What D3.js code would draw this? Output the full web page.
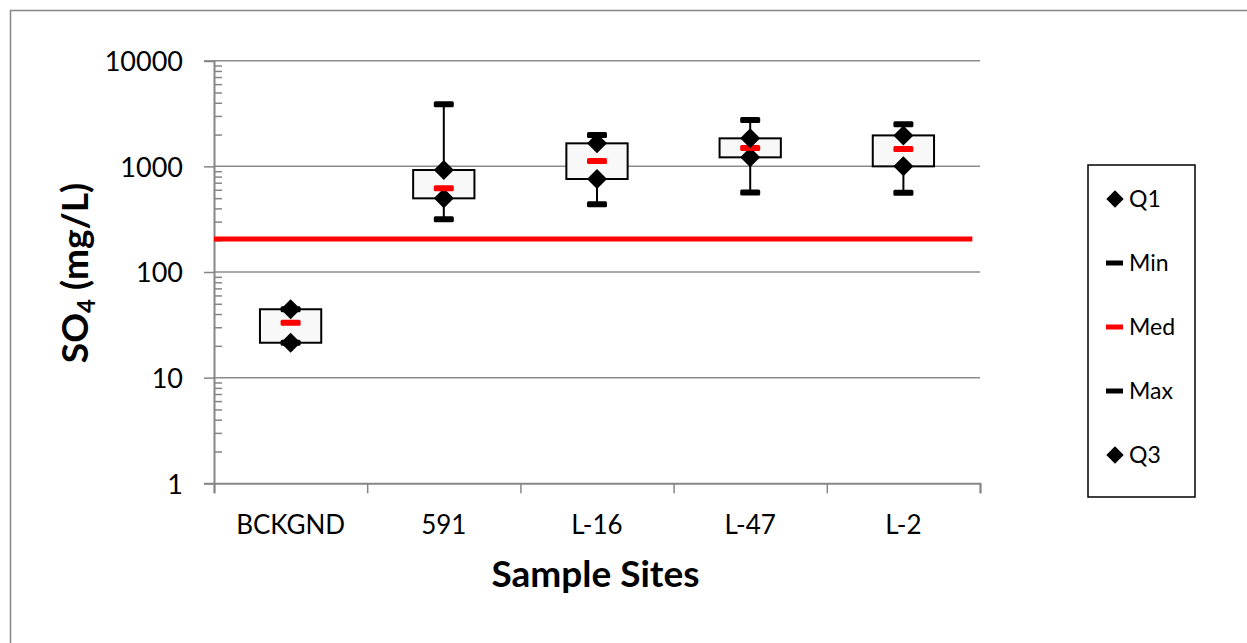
<!DOCTYPE html>
<html>
<head>
<meta charset="utf-8">
<script src="https://cdn.jsdelivr.net/npm/d3@7"></script>
<style>
  html, body { margin: 0; padding: 0; background: #fff; }
  svg { display: block; }
  text { font-family: Lato, "Open Sans", sans-serif; }
</style>
</head>
<body>
<svg id="chart" width="1247" height="643"></svg>
<script>
// ---- data ----
const categories = ["BCKGND", "591", "L-16", "L-47", "L-2"];
const minVals = [21.4, 315, 437, 567, 562];
const q1Vals  = [21.4, 498, 759, 1217, 1000];
const medVals = [33.1, 619, 1122, 1490, 1458];
const q3Vals  = [44.4, 923, 1651, 1841, 1963];
const maxVals = [44.4, 3870, 1977, 2742, 2500];
const yMajorTicks = [1, 10, 100, 1000, 10000];
const thresholdValue = 205;
const thresholdSpan = [0, 4.95]; // in category units
const legendItems = ["Q1", "Min", "Med", "Max", "Q3"];

// ---- layout ----
const svg = d3.select("#chart");
const L = 214, R = 980, T = 60.7, B = 483.3;
const axisColor = "#868686";

svg.append("rect").attr("x", 10.5).attr("y", 10.5).attr("width", 1260).attr("height", 660)
  .attr("fill", "#fff").attr("stroke", axisColor).attr("stroke-width", 1.5);

const y = d3.scaleLog().domain([1, 10000]).range([B, T]);
const x = d3.scaleBand().domain(categories).range([L, R]).padding(0);
const xi = d3.scaleLinear().domain([0, categories.length]).range([L, R]);

// gridlines
svg.append("g").selectAll("line").data(yMajorTicks.slice(1)).join("line")
  .attr("x1", L).attr("x2", R).attr("y1", d => y(d)).attr("y2", d => y(d))
  .attr("stroke", "#8c8c8c").attr("stroke-width", 1.5);

// minor ticks (inside)
const minor = [];
for (let e = 0; e < 4; e++) for (let m = 2; m <= 9; m++) minor.push(m * Math.pow(10, e));
svg.append("g").attr("transform", `translate(${L},0)`)
  .call(d3.axisRight(y).tickValues(minor).tickSize(8).tickFormat(""))
  .call(g => g.select(".domain").remove())
  .call(g => g.selectAll("line").attr("stroke", axisColor).attr("stroke-width", 1.5));

// y axis major
svg.append("g").attr("transform", `translate(${L},0)`)
  .call(d3.axisLeft(y).tickValues(yMajorTicks).tickSize(10).tickPadding(21).tickFormat(d3.format("d")))
  .call(g => g.select(".domain").attr("stroke", axisColor).attr("stroke-width", 2))
  .call(g => g.selectAll("line").attr("stroke", axisColor).attr("stroke-width", 1.5))
  .call(g => g.selectAll("text").attr("font-size", 27).attr("fill", "#000")
      .style("font-family", "Lato, sans-serif").attr("dy", "0.36em"));

// x axis boundaries
svg.append("g").attr("transform", `translate(0,${B})`)
  .call(d3.axisBottom(xi).tickValues(d3.range(categories.length + 1)).tickSize(10).tickFormat(""))
  .call(g => g.select(".domain").attr("stroke", axisColor).attr("stroke-width", 2))
  .call(g => g.selectAll("line").attr("stroke", axisColor).attr("stroke-width", 1.5));

// x labels
svg.append("g").attr("transform", `translate(0,${B})`)
  .call(d3.axisBottom(x).tickSize(0).tickPadding(0))
  .call(g => g.select(".domain").remove())
  .call(g => g.selectAll("text").attr("font-size", 26).attr("fill", "#000")
      .style("font-family", "Lato, sans-serif").attr("y", 51).attr("dy", 0));

// threshold line
svg.append("line")
  .attr("x1", xi(thresholdSpan[0])).attr("x2", xi(thresholdSpan[1]))
  .attr("y1", y(thresholdValue)).attr("y2", y(thresholdValue))
  .attr("stroke", "#ff0000").attr("stroke-width", 5);

// box plots
const bw = x.bandwidth() * 0.4;
const rows = categories.map((c, i) => ({c, min: minVals[i], q1: q1Vals[i], med: medVals[i], q3: q3Vals[i], max: maxVals[i]}));
const g = svg.append("g");
const cx = d => x(d.c) + x.bandwidth() / 2;

g.selectAll(".whisk").data(rows).join("line")
  .attr("x1", cx).attr("x2", cx).attr("y1", d => y(d.min)).attr("y2", d => y(d.max))
  .attr("stroke", "#000").attr("stroke-width", 2);
g.selectAll(".box").data(rows).join("rect")
  .attr("x", d => cx(d) - bw / 2).attr("width", bw)
  .attr("y", d => y(d.q3)).attr("height", d => y(d.q1) - y(d.q3))
  .attr("fill", "#f8f8f8").attr("stroke", "#000").attr("stroke-width", 2);

const diamond = d3.symbol().type(d3.symbolSquare).size(200);
function drawDiamonds(key) {
  g.append("g").selectAll("path").data(rows).join("path")
    .attr("d", diamond)
    .attr("transform", d => `translate(${cx(d)},${y(d[key])}) rotate(45)`)
    .attr("fill", "#000");
}
function drawDash(key, color) {
  g.append("g").selectAll("rect").data(rows).join("rect")
    .attr("x", d => cx(d) - 10).attr("width", 20)
    .attr("y", d => y(d[key]) - 3).attr("height", 6).attr("rx", 1.5)
    .attr("fill", color);
}
drawDiamonds("q1");
drawDash("min", "#000");
drawDash("med", "#ff0000");
drawDash("max", "#000");
drawDiamonds("q3");

// legend
const lg = svg.append("g");
lg.append("rect").attr("x", 1088).attr("y", 165).attr("width", 107).attr("height", 332)
  .attr("fill", "#fff").attr("stroke", "#000").attr("stroke-width", 1.5);
const ly = d3.scalePoint().domain(legendItems).range([199, 455]);
const legendDiamond = d3.symbol().type(d3.symbolSquare).size(150);
legendItems.forEach(k => {
  const yy = ly(k);
  if (k === "Q1" || k === "Q3") {
    lg.append("path").attr("d", legendDiamond).attr("transform", `translate(1115,${yy}) rotate(45)`).attr("fill", "#000");
  } else {
    lg.append("rect").attr("x", 1106).attr("y", yy - 2.5).attr("width", 17).attr("height", 5)
      .attr("fill", k === "Med" ? "#ff0000" : "#000");
  }
  lg.append("text").attr("x", 1129).attr("y", yy).attr("dy", "0.36em")
    .attr("font-size", 23).attr("fill", "#000").text(k);
});

// axis titles
svg.append("text").attr("x", 595.5).attr("y", 587).attr("text-anchor", "middle")
  .attr("font-size", 37).attr("font-weight", "bold").attr("fill", "#000").text("Sample Sites");
const yt = svg.append("text").attr("transform", "translate(88,273) rotate(-90)")
  .attr("text-anchor", "middle").attr("font-size", 37).attr("font-weight", "bold").attr("fill", "#000");
yt.append("tspan").text("SO");
yt.append("tspan").attr("font-size", 24).attr("dy", 7).text("4");
yt.append("tspan").attr("dy", -7).text(" (mg/L)");
</script>
</body>
</html>
